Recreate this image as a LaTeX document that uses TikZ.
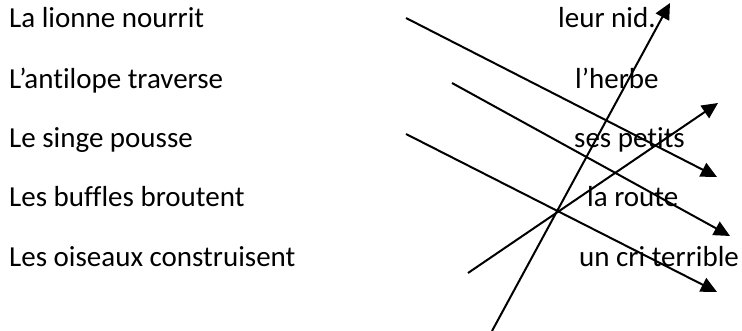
\documentclass[tikz,border=0pt]{standalone}
\usepackage{fontspec}
\setmainfont{Carlito}[Ligatures=NoCommon]
\usetikzlibrary{arrows.meta}
\begin{document}
\begin{tikzpicture}[x=1pt,y=-1pt,
  font=\fontsize{29}{34}\selectfont,
  lbl/.style={anchor=base west, inner sep=0pt},
  conn/.style={line width=2pt, -{Triangle[length=16pt,width=15pt]}}]
\useasboundingbox (0,0) rectangle (742,331);
% left column
\node[lbl] (l1) at (9,28)  {La lionne nourrit};
\node[lbl] (l2) at (9,89)  {L’antilope traverse};
\node[lbl] (l3) at (9,148) {Le singe pousse};
\node[lbl] (l4) at (9,207) {Les buffles broutent};
\node[lbl] (l5) at (9,267) {Les oiseaux construisent};
% right column
\node[lbl] (r1) at (558,28)  {leur nid.};
\node[lbl] (r2) at (575,89)  {l’herbe};
\node[lbl] (r3) at (574,148) {ses petits};
\node[lbl] (r4) at (587,207) {la route};
\node[lbl] (r5) at (579,267) {un cri terrible};
% connector ends
\coordinate (s1) at (406,18);  \coordinate (e1) at (717,177);
\coordinate (s2) at (452,83);  \coordinate (e2) at (730,236);
\coordinate (s3) at (406,134); \coordinate (e3) at (717,292);
\coordinate (s4) at (468,273); \coordinate (e4) at (718,103);
\coordinate (s5) at (492,331); \coordinate (e5) at (670,3);
\draw[conn] (s1) -- (e1);
\draw[conn] (s2) -- (e2);
\draw[conn] (s3) -- (e3);
\draw[conn] (s4) -- (e4);
\draw[conn] (s5) -- (e5);
\end{tikzpicture}
\end{document}
